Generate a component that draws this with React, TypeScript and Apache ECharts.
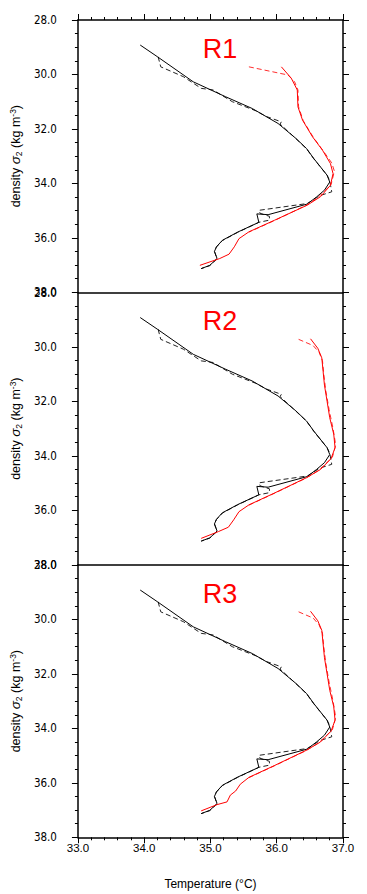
import React, { useEffect, useRef } from "react";
import * as echarts from "echarts";

// ---------- data (temperature °C, density sigma2) ----------
const panelNames = ["R1", "R2", "R3"];

const blackSolid: number[][] = [
  [33.94, 28.92], [34.2, 29.35], [34.74, 30.27], [35.23, 30.82], [35.63, 31.25],
  [36.02, 31.8], [36.29, 32.35], [36.45, 32.72], [36.56, 33.09], [36.76, 33.7],
  [36.8, 33.95], [36.72, 34.25], [36.6, 34.5], [36.46, 34.76], [35.87, 35.15],
  [35.7, 35.12], [35.73, 35.43], [35.41, 35.79], [35.18, 36.09], [35.09, 36.33],
  [35.06, 36.5], [35.1, 36.76], [34.99, 37.01], [34.86, 37.13],
];

const blackDashed: number[][] = [
  [34.21, 29.35], [34.25, 29.72], [34.59, 30.08], [34.86, 30.51], [35.04, 30.57],
  [35.33, 31.0], [35.68, 31.33], [35.85, 31.55], [36.07, 31.74], [36.05, 31.82],
  [36.29, 32.36], [36.45, 32.73], [36.56, 33.1], [36.76, 33.7], [36.8, 33.9],
  [36.83, 34.31], [36.65, 34.45], [36.46, 34.74], [35.73, 34.99], [35.75, 35.1],
  [35.89, 35.21], [35.89, 35.35], [35.73, 35.43], [35.41, 35.8], [35.18, 36.1],
  [35.09, 36.34], [35.06, 36.5], [35.1, 36.77], [34.99, 37.02], [34.86, 37.13],
];

const redSolid1: number[][] = [
  [36.07, 29.72], [36.22, 30.14], [36.31, 30.57], [36.32, 31.19], [36.39, 31.68],
  [36.54, 32.29], [36.69, 32.78], [36.81, 33.27], [36.85, 33.64], [36.81, 34.07],
  [36.66, 34.49], [36.46, 34.8], [35.97, 35.35], [35.58, 35.78], [35.43, 36.03],
  [35.36, 36.33], [35.28, 36.6], [35.14, 36.76], [34.84, 37.01],
];
const redDashed1: number[][] = [
  [35.58, 29.72], [36.17, 30.02], [36.27, 30.27], [36.32, 30.57], [36.33, 31.19],
  [36.4, 31.7], [36.55, 32.3], [36.7, 32.8], [36.83, 33.25], [36.87, 33.55],
  [36.82, 34.05], [36.62, 34.52], [36.45, 34.8], [35.97, 35.36], [35.58, 35.79],
];

const redSolid2: number[][] = [
  [36.51, 29.7], [36.62, 30.05], [36.68, 30.4], [36.7, 30.9], [36.72, 31.4],
  [36.76, 32.0], [36.8, 32.6], [36.86, 33.2], [36.88, 33.7], [36.82, 34.1],
  [36.66, 34.5], [36.45, 34.8], [35.97, 35.36], [35.58, 35.8], [35.43, 36.05],
  [35.35, 36.35], [35.27, 36.62], [35.12, 36.78], [34.86, 37.03],
];
const redDashed2: number[][] = [
  [36.33, 29.72], [36.55, 29.95], [36.64, 30.2], [36.69, 30.5], [36.71, 31.0],
  [36.74, 31.6], [36.79, 32.3], [36.85, 33.0], [36.89, 33.6], [36.84, 34.05],
  [36.64, 34.52], [36.44, 34.82], [35.96, 35.38], [35.57, 35.82],
];

const redSolid3: number[][] = [
  [36.51, 29.7], [36.62, 30.05], [36.68, 30.4], [36.7, 30.9], [36.72, 31.4],
  [36.76, 32.0], [36.8, 32.6], [36.86, 33.2], [36.88, 33.7], [36.82, 34.1],
  [36.66, 34.5], [36.45, 34.8], [35.97, 35.36], [35.58, 35.8], [35.45, 36.05],
  [35.38, 36.3], [35.3, 36.45], [35.25, 36.7], [35.1, 36.8], [34.86, 37.03],
];
const redDashed3: number[][] = [
  [36.33, 29.72], [36.55, 29.95], [36.64, 30.2], [36.69, 30.5], [36.71, 31.0],
  [36.74, 31.6], [36.79, 32.3], [36.85, 33.0], [36.89, 33.6], [36.84, 34.05],
  [36.64, 34.52], [36.44, 34.82], [35.96, 35.38], [35.57, 35.82],
];

const redSolids = [redSolid1, redSolid2, redSolid3];
const redDasheds = [redDashed1, redDashed2, redDashed3];

const xTicks = { min: 33, max: 37, interval: 1 };
const yTicks = { min: 28, max: 38, interval: 2 };

const FONT = "'Liberation Sans', Arial, Helvetica, sans-serif";
const NARROW = "'Liberation Sans Narrow', 'Arial Narrow', 'DejaVu Sans Condensed', sans-serif";

export default function App() {
  const ref = useRef<HTMLDivElement>(null);
  useEffect(() => {
    if (!ref.current) return;
    const chart = echarts.init(ref.current, null, { renderer: "svg" });
    const tops = [20, 292.5, 565];
    const h = 272.3;
    const grids = tops.map((t) => ({ left: 72, width: 271, top: t, height: h }));

    const lineStyleAxis = { color: "#000", width: 1.5 };
    const xAxes: any[] = [];
    const yAxes: any[] = [];
    for (let p = 0; p < 3; p++) {
      const last = p === 2;
      xAxes.push({
        type: "value", gridIndex: p, position: "bottom", ...xTicks,
        axisLine: { show: true, onZero: false, lineStyle: lineStyleAxis },
        axisTick: { show: last, inside: false, length: 6, lineStyle: { color: "#000", width: 1 } },
        minorTick: { show: last, splitNumber: 5, length: 3, lineStyle: { color: "#000", width: 1 } },
        splitLine: { show: false },
        axisLabel: {
          show: last, margin: 5, color: "#000", fontSize: 11.5, fontFamily: FONT,
          formatter: (v: number) => v.toFixed(1),
        },
        name: last ? "Temperature (°C)" : "",
        nameLocation: "middle", nameGap: 41,
        nameTextStyle: { color: "#000", fontSize: 12, fontFamily: FONT },
      });
      yAxes.push({
        type: "value", gridIndex: p, position: "left", inverse: true, ...yTicks,
        axisLine: { show: true, onZero: false, lineStyle: lineStyleAxis },
        axisTick: { show: true, inside: false, length: 6, lineStyle: { color: "#000", width: 1 } },
        minorTick: { show: true, splitNumber: 4, length: 3, lineStyle: { color: "#000", width: 1 } },
        splitLine: { show: false },
        axisLabel: {
          show: true, margin: 21, color: "#000", fontSize: 11.5, fontFamily: NARROW,
          formatter: (v: number) => v.toFixed(1),
        },
        name: "density {i|σ}{sub|2} (kg m{sup|-3})",
        nameLocation: "middle", nameGap: 46,
        nameTextStyle: {
          color: "#000", fontSize: 12.5, fontFamily: FONT,
          rich: {
            i: { fontStyle: "italic", fontSize: 13.5, fontFamily: FONT, color: "#000" },
            sub: { fontSize: 8.5, fontFamily: FONT, color: "#000", verticalAlign: "bottom", padding: [6, 0, 0, 0] },
            sup: { fontSize: 8.5, fontFamily: FONT, color: "#000", verticalAlign: "top", padding: [0, 0, 6, 0] },
          },
        },
      });
    }
    // top axis of first panel
    xAxes.push({
      type: "value", gridIndex: 0, position: "top", ...xTicks,
      axisLine: { show: true, onZero: false, lineStyle: lineStyleAxis },
      axisTick: { show: true, inside: false, length: 6, lineStyle: { color: "#000", width: 1 } },
      minorTick: { show: true, splitNumber: 5, length: 3, lineStyle: { color: "#000", width: 1 } },
      splitLine: { show: false },
      axisLabel: { show: false },
    });
    // right axes
    for (let p = 0; p < 3; p++) {
      yAxes.push({
        type: "value", gridIndex: p, position: "right", inverse: true, ...yTicks,
        axisLine: { show: true, onZero: false, lineStyle: lineStyleAxis },
        axisTick: { show: true, inside: false, length: 6, lineStyle: { color: "#000", width: 1 } },
        minorTick: { show: true, splitNumber: 4, length: 3, lineStyle: { color: "#000", width: 1 } },
        splitLine: { show: false },
        axisLabel: { show: false },
      });
    }

    const series: any[] = [];
    for (let p = 0; p < 3; p++) {
      const base = { type: "line", xAxisIndex: p, yAxisIndex: p, showSymbol: false, symbol: "none", silent: true };
      series.push({ ...base, data: blackDashed, lineStyle: { color: "#222", width: 1, type: [5, 3] } });
      series.push({ ...base, data: blackSolid, lineStyle: { color: "#000", width: 1 } });
      series.push({ ...base, data: redDasheds[p], lineStyle: { color: "#ff3030", width: 1, type: [5, 3] } });
      series.push({ ...base, data: redSolids[p], lineStyle: { color: "#ff0000", width: 1 } });
    }

    const titles = panelNames.map((n, p) => ({
      text: n, left: 215, top: tops[p] + 10, textAlign: "center",
      textStyle: { color: "#ff0000", fontSize: 27, fontWeight: "normal", fontFamily: FONT },
    }));

    chart.setOption({
      animation: false,
      backgroundColor: "#fff",
      title: titles,
      grid: grids,
      xAxis: xAxes,
      yAxis: yAxes,
      series,
    });
    return () => chart.dispose();
  }, []);
  return <div ref={ref} style={{ width: 367, height: 894, position: "absolute", left: 0, top: 0 }} />;
}
